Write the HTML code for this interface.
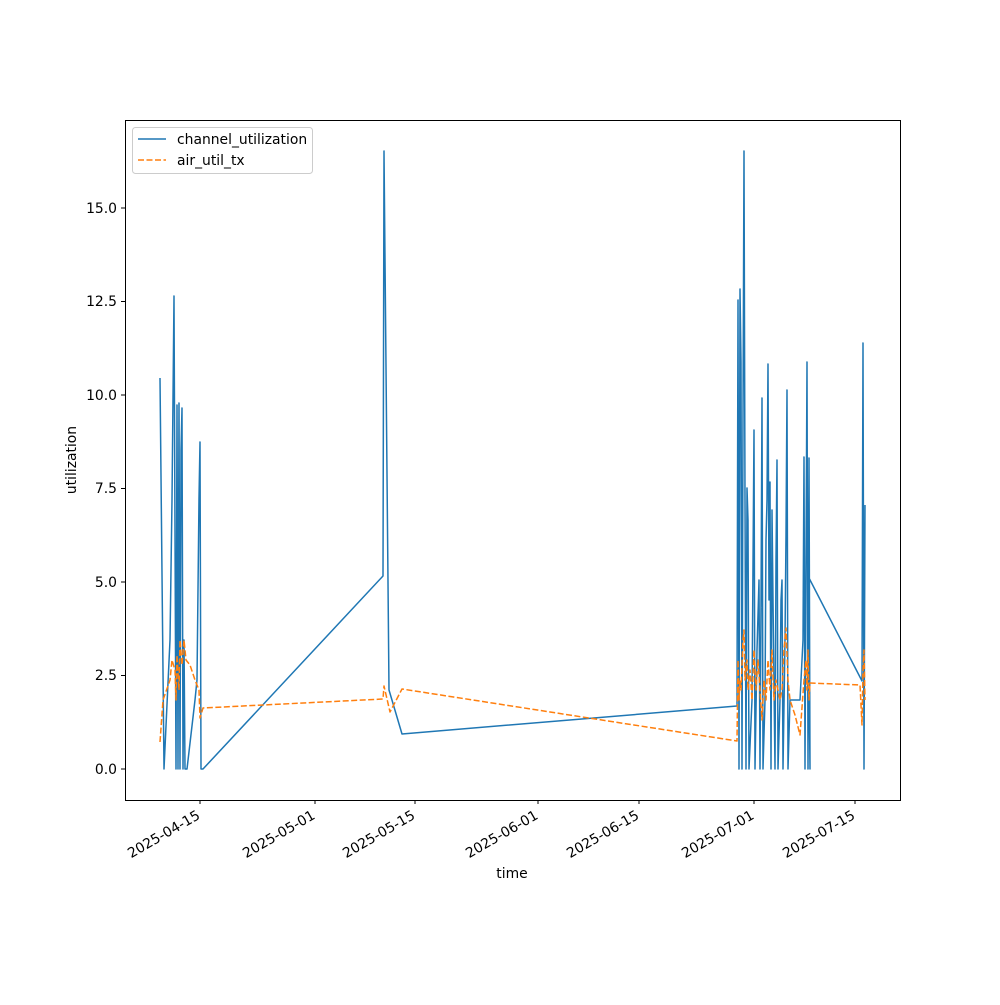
<!DOCTYPE html>
<html><head><meta charset="utf-8"><style>
html,body{margin:0;padding:0;background:#fff;}
text{font-family:"DejaVu Sans","Liberation Sans",sans-serif;font-size:13.9px;fill:#000;}
</style></head><body>
<svg width="1000" height="1000" viewBox="0 0 1000 1000" xmlns="http://www.w3.org/2000/svg">
<rect width="1000" height="1000" fill="#fff"/>
<defs><clipPath id="c"><rect x="125" y="120" width="775" height="680"/></clipPath></defs>
<g clip-path="url(#c)" fill="none" stroke-width="1.5" stroke-linejoin="round">
<polyline stroke="#1f77b4" points="160,378 164,769 170,640 172,500 174,296 176,769 177,405 178,769 179,403 180,769 181,450 182,408 183,769 184,640 185,769 187,769 195,700 197,680 199,498 200,442 201,769 203,769 383,576 384,151 389,690 402,734 737,706 738,300 739,769 740,289 741,362 742,769 743,420 744,151 745,500 746,769 747,488 748,520 749,769 752,700 754,430 755,769 757,650 759,580 760,769 761,608 762,398 763,769 765,700 766,540 767,500 768,364 769,600 770,482 771,769 772,510 773,600 775,769 776,560 777,460 778,769 780,700 781,600 782,580 783,769 785,640 786,535 787,390 788,769 790,700 800,700 803,640 804,457 805,769 806,560 807,362 808,769 809,458 810,769 808,576 862,681 863,343 864,769 865,505"/>
<polyline stroke="#ff7f0e" stroke-dasharray="6,2.5" points="160,742 163,700 170,680 172,660 175,670 176,700 177,655 179,690 180,640 182,665 184,640 186,660 190,665 195,680 199,690 200,718 203,708 383,699 384,686 390,712 402,689 737,741 738,660 739,700 740,680 741,690 743,640 744,630 745,680 747,660 748,690 750,670 752,700 754,650 756,690 758,660 760,690 762,720 764,680 766,700 768,660 770,690 772,650 774,700 776,680 778,690 780,700 782,690 784,650 786,628 788,680 790,700 795,715 800,735 804,680 806,660 807,690 808,650 809,700 810,683 860,685 862,725 863,670 864,650 865,700"/>
</g>
<rect x="125.5" y="120.5" width="775" height="680" fill="none" stroke="#000" stroke-width="1"/>
<g stroke="#000" stroke-width="1">
<line x1="125" x2="121" y1="769" y2="769"/><line x1="125" x2="121" y1="675.5" y2="675.5"/><line x1="125" x2="121" y1="582" y2="582"/><line x1="125" x2="121" y1="488.5" y2="488.5"/><line x1="125" x2="121" y1="395" y2="395"/><line x1="125" x2="121" y1="301.5" y2="301.5"/><line x1="125" x2="121" y1="208" y2="208"/>
<line x1="200" x2="200" y1="800" y2="804"/><line x1="315" x2="315" y1="800" y2="804"/><line x1="415" x2="415" y1="800" y2="804"/><line x1="538" x2="538" y1="800" y2="804"/><line x1="639" x2="639" y1="800" y2="804"/><line x1="754" x2="754" y1="800" y2="804"/><line x1="855" x2="855" y1="800" y2="804"/>
</g>
<g text-anchor="end">
<text x="117" y="774">0.0</text><text x="117" y="680">2.5</text><text x="117" y="587">5.0</text><text x="117" y="493">7.5</text><text x="117" y="400">10.0</text><text x="117" y="306">12.5</text><text x="117" y="213">15.0</text>
<text transform="translate(201,818) rotate(-30)">2025-04-15</text>
<text transform="translate(316,818) rotate(-30)">2025-05-01</text>
<text transform="translate(416,818) rotate(-30)">2025-05-15</text>
<text transform="translate(539,818) rotate(-30)">2025-06-01</text>
<text transform="translate(640,818) rotate(-30)">2025-06-15</text>
<text transform="translate(755,818) rotate(-30)">2025-07-01</text>
<text transform="translate(856,818) rotate(-30)">2025-07-15</text>
</g>
<text x="512" y="878" text-anchor="middle">time</text>
<text transform="translate(76,460) rotate(-90)" text-anchor="middle">utilization</text>
<rect x="132.5" y="127.5" width="180" height="46" rx="3" fill="#fff" stroke="#ccc"/>
<line x1="138" x2="166" y1="139" y2="139" stroke="#1f77b4" stroke-width="1.5"/>
<line x1="138" x2="166" y1="160" y2="160" stroke="#ff7f0e" stroke-width="1.5" stroke-dasharray="6,2.5"/>
<text x="177" y="144">channel_utilization</text>
<text x="177" y="165">air_util_tx</text>
</svg>
</body></html>
